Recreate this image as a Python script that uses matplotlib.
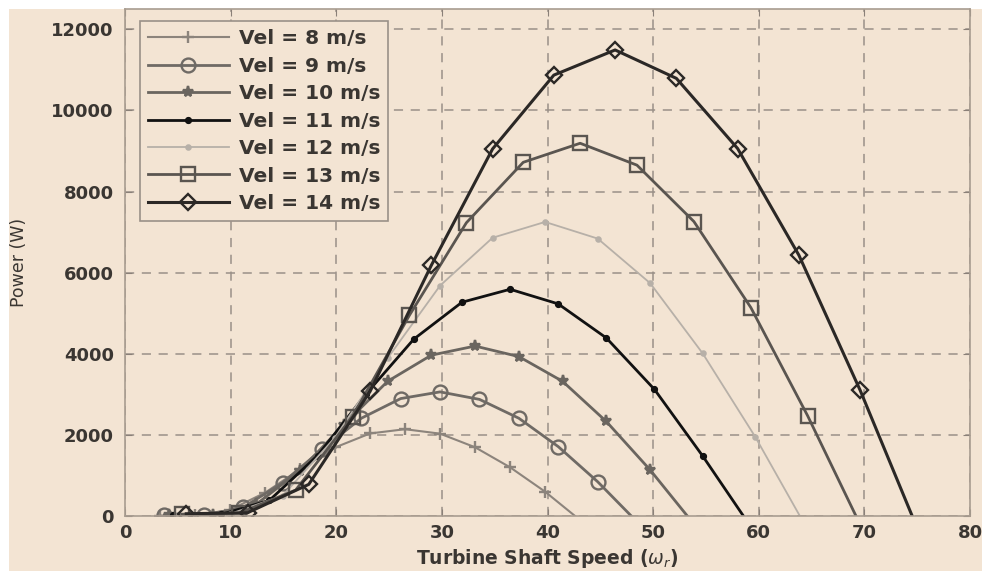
import matplotlib
matplotlib.use("Agg")
import matplotlib.pyplot as plt
from matplotlib.patches import Rectangle

plt.rcParams['font.family'] = ['DejaVu Sans']
plt.rcParams['mathtext.fontset'] = 'dejavusans'

# wind speeds (m/s) and labels
velocities = [8, 9, 10, 11, 12, 13, 14]
labels = ['Vel = %d m/s' % v for v in velocities]

# shaft speed sample points for each wind speed
speed_8 = [3.31, 6.63, 9.94, 13.26, 16.57, 19.89, 23.20, 26.51, 29.83, 33.14, 36.46, 39.77, 43.08]
speed_9 = [3.73, 7.46, 11.19, 14.92, 18.64, 22.37, 26.10, 29.83, 33.56, 37.29, 41.02, 44.75, 48.48]
speed_10 = [4.14, 8.29, 12.43, 16.57, 20.72, 24.86, 29.00, 33.14, 37.29, 41.43, 45.57, 49.72, 53.86]
speed_11 = [4.56, 9.11, 13.67, 18.23, 22.79, 27.34, 31.90, 36.46, 41.01, 45.57, 50.13, 54.69, 59.24]
speed_12 = [4.97, 9.94, 14.92, 19.89, 24.86, 29.83, 34.80, 39.77, 44.75, 49.72, 54.69, 59.66, 64.64]
speed_13 = [5.39, 10.77, 16.16, 21.54, 26.93, 32.32, 37.70, 43.09, 48.47, 53.86, 59.25, 64.63, 70.02]
speed_14 = [5.80, 11.60, 17.40, 23.20, 29.00, 34.80, 40.60, 46.40, 52.20, 58.00, 63.80, 69.60, 75.40]

# power (W)
power_8 = [10, 15, 150, 575, 1150, 1690, 2035, 2140, 2030, 1695, 1200, 600, -100]
power_9 = [15, 20, 210, 820, 1640, 2410, 2895, 3060, 2875, 2410, 1710, 845, -145]
power_10 = [20, 30, 290, 1120, 2250, 3320, 3965, 4190, 3930, 3320, 2330, 1135, -200]
power_11 = [25, 40, 385, 1490, 3000, 4360, 5270, 5590, 5230, 4390, 3120, 1480, -265]
power_12 = [35, 50, 500, 1935, 3890, 5680, 6860, 7250, 6840, 5740, 4010, 1955, -345]
power_13 = [45, 65, 640, 2450, 4950, 7230, 8720, 9190, 8650, 7260, 5140, 2470, -440]
power_14 = [55, 80, 780, 3070, 6180, 9050, 10870, 11490, 10790, 9060, 6430, 3100, -550]

speeds = [speed_8, speed_9, speed_10, speed_11, speed_12, speed_13, speed_14]
powers = [power_8, power_9, power_10, power_11, power_12, power_13, power_14]

colors = ['#8c847c', '#6f6a65', '#6a655f', '#111111', '#b7b0a8', '#5a5550', '#2b2826']
markers = ['+', 'o', '*', '.', '.', 's', 'D']
msizes = [8, 10, 8, 7, 6, 10, 8.5]
lwidths = [1.5, 2.0, 2.0, 2.0, 1.3, 2.0, 2.2]
bg = '#f3e4d3'
text_col = '#3a3632'

fig = plt.figure(figsize=(9.82, 5.71), dpi=100)
fig.patch.set_facecolor(bg)
# white strips along the top and left edge
fig.add_artist(Rectangle((0, 562 / 571), 1, 9 / 571, transform=fig.transFigure,
                         facecolor='white', edgecolor='none', zorder=-10))
fig.add_artist(Rectangle((0, 0), 9 / 982, 1, transform=fig.transFigure,
                         facecolor='white', edgecolor='none', zorder=-10))
ax = fig.add_axes([125 / 982, 55 / 571, 845 / 982, 507 / 571])
ax.set_facecolor(bg)

for i in range(len(velocities)):
    m = markers[i]
    face = 'none' if m in ('o', 's', 'D') else colors[i]
    ax.plot(speeds[i], powers[i], color=colors[i], marker=m, ms=msizes[i],
            lw=lwidths[i], mew=1.7, mfc=face, mec=colors[i],
            markevery=slice(0, 12), label=labels[i])

ax.set_xlim(0, 80)
ax.set_ylim(0, 12500)
ax.set_xticks(range(0, 81, 10))
ax.set_yticks(range(0, 12001, 2000))
ax.grid(True, linestyle=(0, (6, 5)), color='#9a9088', linewidth=1.1)
ax.tick_params(direction='in', top=True, right=True, length=5, color='#8a8078',
               labelsize=13, labelcolor=text_col)
ax.tick_params(axis='x', pad=6)
ax.tick_params(axis='y', pad=8)
for lab in ax.get_xticklabels() + ax.get_yticklabels():
    lab.set_fontweight('bold')
for s in ax.spines.values():
    s.set_color('#a89c90')
    s.set_linewidth(1.2)

ax.set_xlabel(r'Turbine Shaft Speed ($\omega_r$)', fontsize=13.5, fontweight='bold',
              color=text_col, labelpad=3)
ax.set_ylabel('Power (W)', fontsize=12.5, color=text_col, labelpad=17)

leg = ax.legend(loc='upper left', bbox_to_anchor=(0.0178, 0.976), borderaxespad=0,
                handlelength=4.0, labelspacing=0.42, borderpad=0.4, handletextpad=0.5,
                fancybox=False, framealpha=1, facecolor=bg, edgecolor='#9a9088',
                prop={'weight': 'bold', 'size': 14.5})
leg.get_frame().set_linewidth(1.2)
for t in leg.get_texts():
    t.set_color(text_col)

fig.savefig('out.png', dpi=100, facecolor=fig.get_facecolor())
